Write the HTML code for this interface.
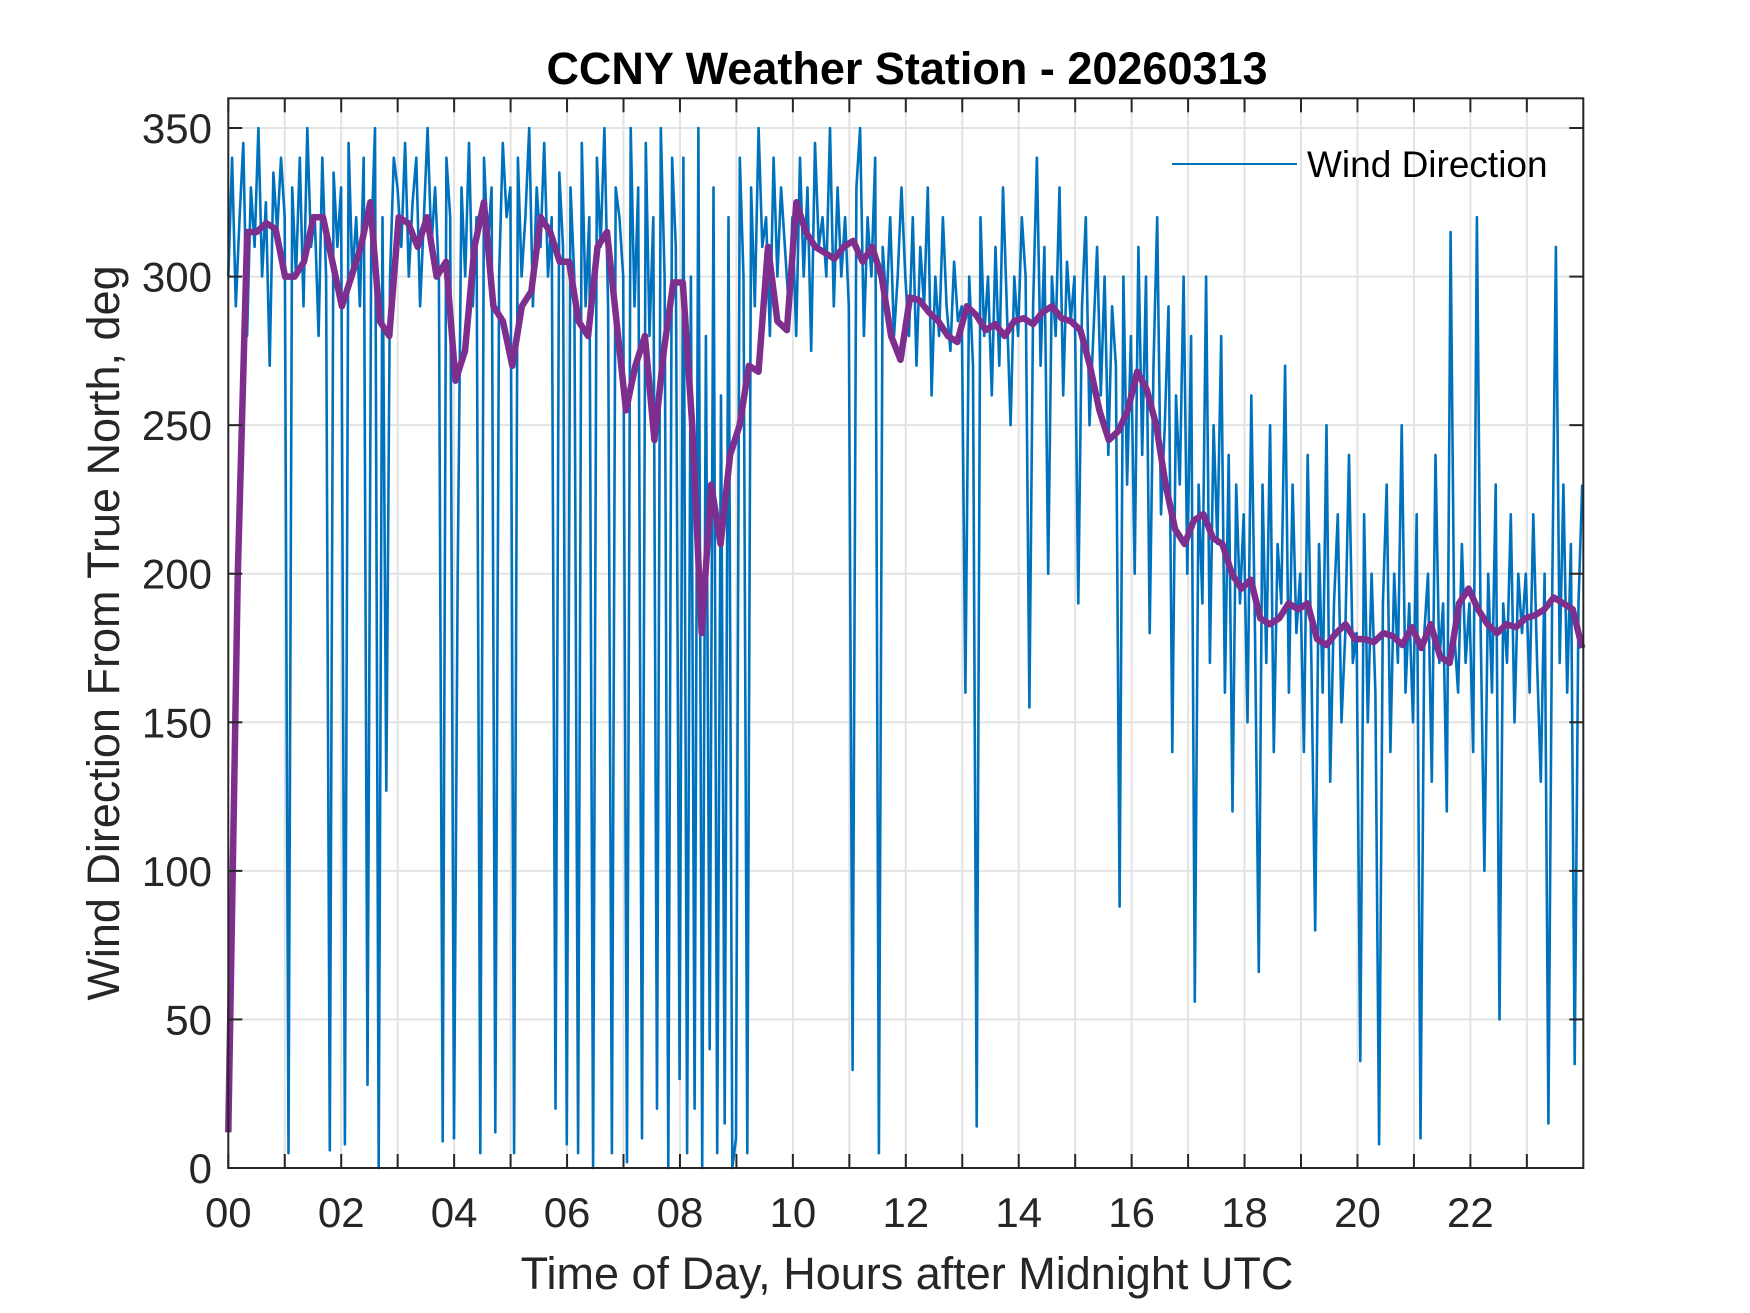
<!DOCTYPE html>
<html><head><meta charset="utf-8">
<style>
html,body{margin:0;padding:0;background:#fff;}
svg{display:block;font-family:"Liberation Sans",Arial,sans-serif;}
</style></head>
<body>
<svg id="chart" width="1750" height="1313" viewBox="0 0 1750 1313" xmlns="http://www.w3.org/2000/svg">
<rect x="0" y="0" width="1750" height="1313" fill="#fff"/>
<g id="grid"></g>
<g id="series"></g>
<g id="axes"></g>
<text x="907" y="84" text-anchor="middle" font-size="45" font-weight="bold" fill="#000">CCNY Weather Station - 20260313</text>
<text x="907" y="1289" text-anchor="middle" font-size="45" fill="#262626">Time of Day, Hours after Midnight UTC</text>
<text transform="translate(119,633) rotate(-90)" text-anchor="middle" font-size="45" fill="#262626">Wind Direction From True North, deg</text>
<g>
<line x1="1172" y1="164" x2="1297" y2="164" stroke="#0072BD" stroke-width="2"/>
<text x="1307" y="177" font-size="37" fill="#000">Wind Direction</text>
</g>
</svg>
<script>
const xTicks = [0,2,4,6,8,10,12,14,16,18,20,22];
const xTickLabels = ["00","02","04","06","08","10","12","14","16","18","20","22"];
const yTicks = [0,50,100,150,200,250,300,350];
const yTickLabels = ["0","50","100","150","200","250","300","350"];
const windDir = [
300,340,290,320,345,280,330,310,350,300,325,270,335,315,340,
320,5,330,300,340,290,350,310,320,280,340,300,6,335,310,
330,8,345,300,320,290,340,28,310,350,0,320,127,300,340,
330,310,345,300,325,340,290,320,350,310,330,300,9,340,320,
10,200,330,300,345,290,320,5,340,310,330,12,300,345,320,
330,5,340,300,320,350,290,330,310,345,300,320,20,335,310,
8,330,300,5,345,290,320,0,340,310,350,290,5,330,320,
300,2,350,290,330,10,345,280,320,20,350,300,0,340,310,
30,340,5,300,20,350,0,280,40,330,5,260,15,320,0,
10,340,300,5,330,290,350,310,320,280,340,300,330,310,290,
320,280,340,300,330,275,345,310,320,300,350,290,330,300,320,
290,33,330,350,280,320,300,340,5,310,290,320,280,300,330,
300,280,320,270,310,290,330,260,300,280,320,290,275,305,285,
290,160,300,270,14,320,280,300,260,310,270,330,290,250,300,
280,320,300,155,290,340,270,310,200,300,280,330,260,305,285,
300,190,290,320,250,280,310,260,300,240,290,270,88,300,230,
280,200,310,240,300,180,270,320,220,250,290,140,260,230,300,
200,280,56,230,190,300,170,250,210,280,160,240,120,230,190,
220,150,260,180,66,230,170,250,140,210,190,270,160,230,180,
200,140,240,170,80,210,160,250,130,190,220,150,180,240,170,
180,36,220,150,200,160,8,190,230,140,200,170,250,160,190,
150,220,10,180,200,130,240,170,190,120,315,180,160,210,170,
190,140,320,180,100,200,160,230,50,190,170,220,150,200,180,
200,160,220,170,130,200,15,190,310,170,230,160,210,35,190,
230];
const windAvg = [
12,200,315,315,318,316,
300,300,305,320,320,305,
290,300,310,325,285,280,
320,318,310,320,300,305,
265,275,310,325,290,285,
270,290,295,320,315,305,
305,285,280,310,315,285,
255,270,280,245,275,298,
298,250,180,230,210,240,
250,270,268,310,285,282,
325,315,310,308,306,310,
312,305,310,300,280,272,
293,292,288,285,280,278,
290,287,282,284,280,285,
286,284,288,290,286,285,
282,270,255,245,248,255,
268,262,250,230,215,210,
218,220,212,210,200,195,
198,185,183,185,190,188,
190,178,176,180,183,178,
178,177,180,179,176,182,
175,183,172,170,190,195,
188,183,180,183,182,185,
186,188,192,190,188,175];

const X0=228.3, X1=1583.3, Y0=1168, Y1=98.3, XMAX=24, YMAX=360;
const xs = v => X0 + (X1-X0)*v/XMAX;
const ys = v => Y0 - (Y0-Y1)*v/YMAX;
const NS="http://www.w3.org/2000/svg";
function mk(tag, attrs, parent){const e=document.createElementNS(NS,tag);for(const k in attrs)e.setAttribute(k,attrs[k]);parent.appendChild(e);return e;}
const grid=document.getElementById('grid'), series=document.getElementById('series'), axes=document.getElementById('axes');

for(let h=1;h<24;h++){
  const l=mk('line',{x1:xs(h),x2:xs(h),y1:Y1,y2:Y0,stroke:'#e3e3e3','stroke-width':2},grid);
  
  
}
yTicks.forEach(v=>{
  const l=mk('line',{x1:X0,x2:X1,y1:ys(v),y2:ys(v),stroke:'#e3e3e3','stroke-width':2},grid);
  
  
});

let d='';
windDir.forEach((v,i)=>{const t=XMAX*0.9992*i/(windDir.length-1);d+=(i?'L':'M')+xs(t).toFixed(1)+','+ys(v).toFixed(1);});
const p1=mk('path',{d:d,fill:'none',stroke:'#0072BD','stroke-width':2.6,'stroke-linejoin':'round'},series);



let d2='';
windAvg.forEach((v,i)=>{const t=XMAX*0.9992*i/(windAvg.length-1);d2+=(i?'L':'M')+xs(t).toFixed(1)+','+ys(v).toFixed(1);});
const p2=mk('path',{d:d2,fill:'none',stroke:'#7E2F8E','stroke-width':6.5,'stroke-linejoin':'round'},series);



const box=mk('rect',{x:X0,y:Y1,width:X1-X0,height:Y0-Y1,fill:'none',stroke:'#262626','stroke-width':2},axes);



for(let h=0;h<24;h++){
  const a=mk('line',{x1:xs(h),x2:xs(h),y1:Y0,y2:Y0-14,stroke:'#262626','stroke-width':2},axes);
  
  
  const b=mk('line',{x1:xs(h),x2:xs(h),y1:Y1,y2:Y1+14,stroke:'#262626','stroke-width':2},axes);
  
  
}
xTicks.forEach((v,i)=>{
  const t=mk('text',{x:xs(v),y:1227,'text-anchor':'middle','font-size':42,fill:'#262626'},axes);
  t.textContent=xTickLabels[i];
  
  
});
yTicks.forEach((v,i)=>{
  const a=mk('line',{x1:X0,x2:X0+14,y1:ys(v),y2:ys(v),stroke:'#262626','stroke-width':2},axes);
  
  
  const b=mk('line',{x1:X1,x2:X1-14,y1:ys(v),y2:ys(v),stroke:'#262626','stroke-width':2},axes);
  
  
  const t=mk('text',{x:212,y:ys(v)+15,'text-anchor':'end','font-size':42,fill:'#262626'},axes);
  t.textContent=yTickLabels[i];
  
  
});
</script>
</body></html>
